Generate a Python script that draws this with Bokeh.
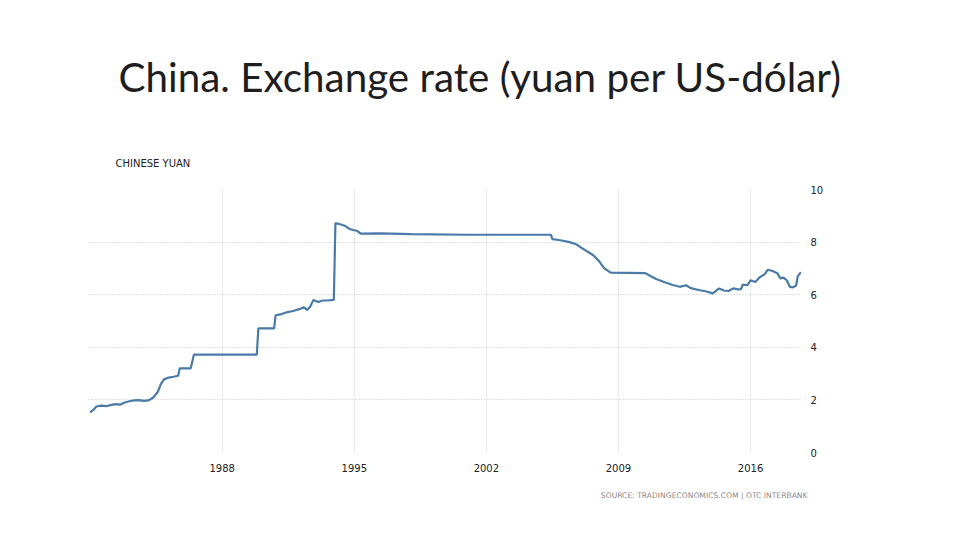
import pandas as pd
from bokeh.plotting import figure
from bokeh.models import FixedTicker, Range1d, Title
from bokeh.embed import file_html
from bokeh.resources import INLINE

# ---- data ----
dates = [
    "1981-01", "1981-03", "1981-05", "1981-08", "1981-11", "1982-02", "1982-05", "1982-08",
    "1982-11", "1983-02", "1983-05", "1983-08", "1983-11", "1984-02", "1984-05", "1984-08",
    "1984-10", "1984-12", "1985-03", "1985-06", "1985-09", "1985-10", "1986-05", "1986-07",
    "1989-11", "1989-12", "1990-10", "1990-11", "1991-02", "1991-06", "1991-10", "1992-02",
    "1992-05", "1992-07", "1992-09", "1992-11", "1993-02", "1993-05", "1993-08", "1993-12",
    "1994-01", "1994-04", "1994-07", "1994-10", "1995-01", "1995-03", "1995-05", "1996-06",
    "1998-01", "2001-01", "2005-06", "2005-07", "2005-12", "2006-06", "2006-10", "2007-01",
    "2007-05", "2007-09", "2008-01", "2008-04", "2008-08", "2010-06", "2010-09", "2011-01",
    "2011-06", "2011-11", "2012-04", "2012-08", "2012-11", "2013-04", "2013-09", "2014-01",
    "2014-05", "2014-08", "2014-11", "2015-02", "2015-05", "2015-07", "2015-08", "2015-11",
    "2016-01", "2016-04", "2016-07", "2016-10", "2016-12", "2017-03", "2017-06", "2017-08",
    "2017-10", "2017-12", "2018-02", "2018-04", "2018-06", "2018-07", "2018-09",
]
yuan_per_usd = [
    1.53, 1.62, 1.75, 1.78, 1.76, 1.80, 1.84, 1.82,
    1.90, 1.95, 1.98, 1.99, 1.96, 1.98, 2.08, 2.30,
    2.60, 2.78, 2.85, 2.88, 2.92, 3.20, 3.20, 3.72,
    3.72, 4.72, 4.72, 5.22, 5.25, 5.33, 5.38, 5.45,
    5.52, 5.42, 5.55, 5.80, 5.72, 5.78, 5.78, 5.80,
    8.72, 8.68, 8.62, 8.50, 8.45, 8.42, 8.32, 8.33,
    8.30, 8.28, 8.28, 8.11, 8.07, 8.00, 7.92, 7.80,
    7.65, 7.50, 7.25, 7.00, 6.84, 6.82, 6.72, 6.60,
    6.48, 6.38, 6.30, 6.36, 6.25, 6.18, 6.12, 6.05,
    6.24, 6.16, 6.14, 6.24, 6.20, 6.21, 6.38, 6.36,
    6.55, 6.48, 6.67, 6.78, 6.95, 6.90, 6.82, 6.62,
    6.65, 6.55, 6.30, 6.28, 6.35, 6.70, 6.86,
]
year_ticks = [1988, 1995, 2002, 2009, 2016]
value_ticks = [0, 2, 4, 6, 8, 10]

title_text = "China. Exchange rate (yuan per US-dólar)"
series_title = "CHINESE YUAN"
source_text = "SOURCE: TRADINGECONOMICS.COM | OTC INTERBANK"

# decimal years
dt = pd.to_datetime(dates, format="%Y-%m")
xs = [d.year + (d.month - 1) / 12.0 for d in dt]

p = figure(
    width=944, height=524,
    x_range=Range1d(1980.915, 2018.70),
    y_range=Range1d(0, 10),
    y_axis_location="right",
    output_backend="svg", toolbar_location=None,
    min_border_left=88, min_border_right=143, min_border_top=189, min_border_bottom=72,
)
p.outline_line_color = None
p.background_fill_color = "white"
p.border_fill_color = "white"

p.line(xs, yuan_per_usd, line_color="#4a7aa8", line_width=2.2)

for ax in (p.xaxis[0], p.yaxis[0]):
    ax.axis_line_color = None
    ax.major_tick_line_color = None
    ax.minor_tick_line_color = None
    ax.major_label_text_font = "DejaVu Sans"
    ax.major_label_text_font_size = "10px"
    ax.major_label_text_color = "#222222"

p.xaxis[0].ticker = FixedTicker(ticks=year_ticks)
p.xaxis[0].major_label_standoff = 5
p.yaxis[0].ticker = FixedTicker(ticks=value_ticks)
p.yaxis[0].major_label_standoff = 3

for g in (p.xgrid[0], p.ygrid[0]):
    g.grid_line_color = "#c4c4c4"
    g.grid_line_dash = "1 2"
    g.grid_line_width = 1
p.xgrid[0].ticker = FixedTicker(ticks=year_ticks)
p.ygrid[0].ticker = FixedTicker(ticks=value_ticks)

# texts around the frame, as Titles (not clipped)
p.add_layout(Title(text=series_title, align="left", offset=27, standoff=41,
                   text_font="DejaVu Sans", text_font_size="10px",
                   text_font_style="normal", text_color="#222222"), "above")
p.add_layout(Title(text=title_text, align="left", offset=30, standoff=69,
                   text_font="Lato", text_font_size="40.4px",
                   text_font_style="normal", text_color="#1e1e1e"), "above")
p.add_layout(Title(text=source_text, align="right", offset=-6, standoff=28,
                   text_font="DejaVu Sans", text_font_size="7.6px",
                   text_font_style="normal", text_color="#8a8a8a"), "below")

open("out.html", "w").write(file_html(p, INLINE))
